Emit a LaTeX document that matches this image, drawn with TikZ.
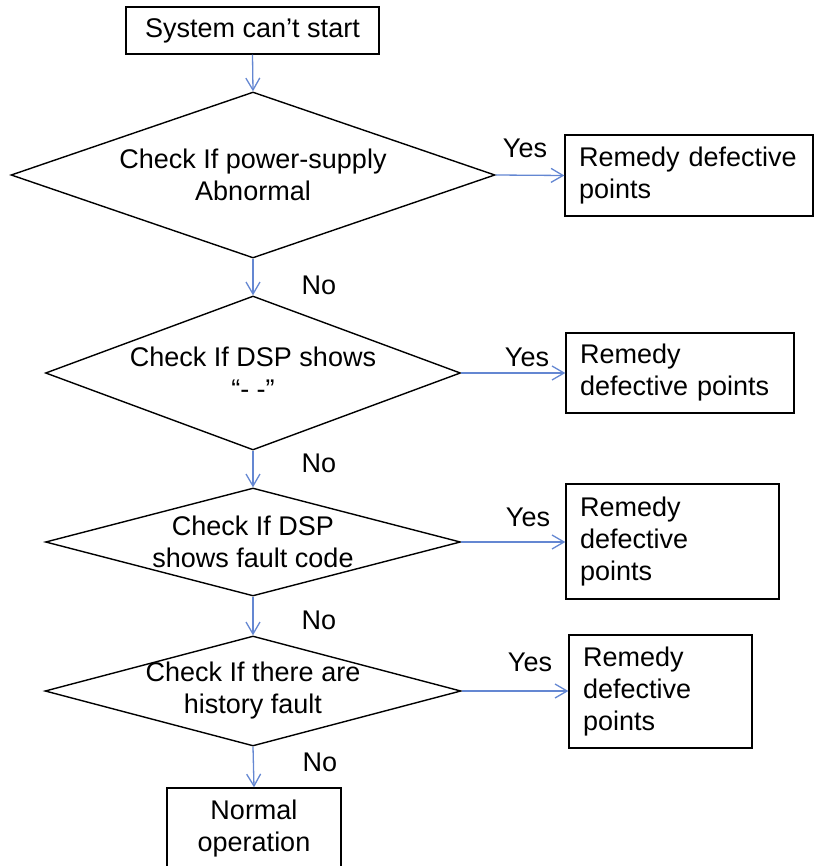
\documentclass[tikz,border=0pt]{standalone}
\usepackage{fontspec}
\setmainfont{Liberation Sans}
\usetikzlibrary{shapes.geometric,arrows.meta}
\definecolor{flowblue}{RGB}{100,135,210}
\begin{document}
\begin{tikzpicture}[x=1pt,y=-1pt,
  every node/.style={font=\fontsize{27}{32}\selectfont},
  box/.style={draw=black, line width=1.4pt, rectangle, inner sep=0pt},
  remedy/.style={box, align=left, inner xsep=14pt, inner ysep=0pt},
  decision/.style={draw=black, line width=1.4pt, diamond, inner sep=0pt},
  dtext/.style={inner sep=0pt, align=center},
  flow/.style={draw=flowblue, line width=1.3pt, -{Straight Barb[length=12pt,width=14pt]}},
  lbl/.style={inner sep=0pt}]
\useasboundingbox (0,0) rectangle (814,866);

% start box
\node[box, minimum width=253pt, minimum height=47pt] (start) at (252.5,30.5) {System can’t start};

% decisions
\node[decision, minimum width=484pt, minimum height=166pt] (d1) at (253,175) {};
\node[dtext] (t1) at (d1.center) {Check If power-supply\\Abnormal};

\node[decision, minimum width=415pt, minimum height=154pt] (d2) at (253,373) {};
\node[dtext] (t2) at (d2.center) {Check If DSP shows\\“- -”};

\node[decision, minimum width=415pt, minimum height=108pt] (d3) at (253,542) {};
\node[dtext] (t3) at (d3.center) {Check If DSP\\shows fault code};

\node[decision, minimum width=416pt, minimum height=110pt] (d4) at (253,691) {};
\node[dtext] (t4) at (d4.center) {Check If there are\\history fault};

% remedy boxes
\node[remedy, text width=220pt, minimum height=81pt] (r1) at (689,175.5) {Remedy defective\\points};
\node[remedy, text width=200pt, minimum height=80pt] (r2) at (680,373) {Remedy\\defective points};
\node[remedy, text width=185pt, minimum height=115pt] (r3) at (672.5,541.5) {Remedy\\defective\\points};
\node[remedy, text width=155pt, minimum height=113pt] (r4) at (660.5,691.5) {Remedy\\defective\\points};

% end box
\node[box, align=center, minimum width=174pt, minimum height=82pt] (end) at (254,829) {Normal\\operation};

% main flow
\draw[flow] (start.south) -- (d1.north);
\draw[flow] (d1.south) -- (d2.north);
\draw[flow] (d2.south) -- (d3.north);
\draw[flow] (d3.south) -- (d4.north);
\draw[flow] (d4.south) -- (end.north);

% yes branches
\draw[flow] (d1.east) -- (r1.west);
\draw[flow] (d2.east) -- (r2.west);
\draw[flow] (d3.east) -- (r3.west |- d3.east);
\draw[flow] (d4.east) -- (r4.west |- d4.east);

% branch labels
\node[lbl] (y1) at (525,148) {Yes};
\node[lbl] (y2) at (527,357) {Yes};
\node[lbl] (y3) at (528,517) {Yes};
\node[lbl] (y4) at (530,662) {Yes};
\node[lbl] (n1) at (319,285) {No};
\node[lbl] (n2) at (319,463) {No};
\node[lbl] (n3) at (319,620) {No};
\node[lbl] (n4) at (320,762) {No};
\end{tikzpicture}
\end{document}
